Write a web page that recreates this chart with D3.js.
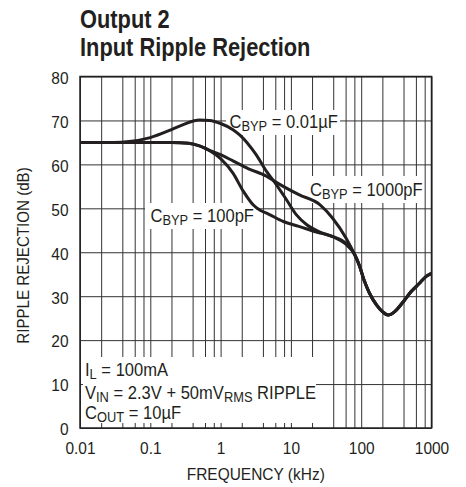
<!DOCTYPE html>
<html>
<head>
<meta charset="utf-8">
<script src="https://cdn.jsdelivr.net/npm/d3@7"></script>
<style>
  html, body { margin: 0; padding: 0; background: #fff; }
  svg { display: block; }
  text { font-family: "Liberation Sans", Arial, sans-serif; fill: #231f20; }
</style>
</head>
<body>
<svg id="chart" width="466" height="487"></svg>
<script>
// Frequency axis (kHz, log) and ripple rejection axis (dB)
const xTickValues = [0.01, 0.1, 1, 10, 100, 1000];
const xTickLabels = ["0.01", "0.1", "1", "10", "100", "1000"];
const yTickValues = [0, 10, 20, 30, 40, 50, 60, 70, 80];
const gridMultipliers = [1, 2, 4, 6, 8];

// C_BYP = 0.01µF
const freqA = [0.01, 0.03, 0.05, 0.1, 0.2, 0.3, 0.5, 0.7, 1, 1.5, 1.9, 3.2, 4.5, 6.2, 8.7, 12, 17, 25, 40, 60];
const dbA   = [65, 65, 65.2, 66.1, 67.9, 69.1, 70.1, 70, 69.3, 67.9, 66.6, 62.2, 58.4, 55.4, 51.9, 48.5, 46.2, 44.7, 43.5, 41.9];

// C_BYP = 100pF
const freqB = [0.01, 0.1, 0.2, 0.35, 0.5, 0.7, 1, 1.5, 2.1, 2.9, 3.6, 4.8, 7.8, 13, 23, 39, 61];
const dbB   = [65, 65, 65, 64.8, 64.2, 63.1, 61.3, 58, 53.9, 50.8, 49.6, 48.7, 47, 45.9, 44.6, 43.6, 42];

// C_BYP = 1000pF
const freqC = [0.01, 0.1, 0.2, 0.35, 0.5, 0.7, 1, 1.5, 2.5, 4.5, 6.2, 13, 26, 39, 61];
const dbC   = [65, 65, 65, 64.8, 64.2, 63.2, 62.2, 60.8, 59, 57.3, 55.9, 53.1, 50.8, 47.8, 43.2];

// Shared high-frequency response where the three curves coincide
const freqTail = [80, 95, 110, 130, 165, 200, 240, 300, 400, 510, 680, 840, 1000];
const dbTail   = [39.6, 36.8, 33.6, 30.8, 28, 26.5, 25.7, 26.5, 28.8, 31, 33, 34.5, 35.2];

const svg = d3.select("#chart");
const plotL = 80, plotR = 431.5, plotT = 76.5, plotB = 428;

const x = d3.scaleLog().domain([0.01, 1000]).range([plotL, plotR]);
const y = d3.scaleLinear().domain([0, 80]).range([plotB, plotT]);

// grid positions: 1,2,4,6,8 in each decade
const gridX = [];
xTickValues.slice(0, -1).forEach(d => gridMultipliers.forEach(m => gridX.push(d * m)));
gridX.push(1000);

const grid = svg.append("g");
grid.append("g")
  .attr("transform", `translate(0,${plotB})`)
  .call(d3.axisBottom(x).tickValues(gridX).tickSize(-(plotB - plotT)).tickFormat(""))
  .call(g => g.select(".domain").remove())
  .call(g => g.selectAll("line").attr("stroke", "#333").attr("stroke-width", 1));
grid.append("g")
  .attr("transform", `translate(${plotL},0)`)
  .call(d3.axisLeft(y).tickValues(yTickValues).tickSize(-(plotR - plotL)).tickFormat(""))
  .call(g => g.select(".domain").remove())
  .call(g => g.selectAll("line").attr("stroke", "#333").attr("stroke-width", 1));

// white panels behind the annotations
const panels = [
  [226, 110, 114, 25],
  [306, 176, 116, 27],
  [145, 203, 111, 26],
  [83, 357, 233, 66]
];
svg.append("g").selectAll("rect").data(panels).join("rect")
  .attr("x", d => d[0]).attr("y", d => d[1])
  .attr("width", d => d[2]).attr("height", d => d[3])
  .attr("fill", "#fff");

// frame
svg.append("rect")
  .attr("x", plotL).attr("y", plotT)
  .attr("width", plotR - plotL).attr("height", plotB - plotT)
  .attr("fill", "none").attr("stroke", "#231f20").attr("stroke-width", 1.5);

// curves
const line = d3.line()
  .x(d => x(d[0])).y(d => y(d[1]))
  .curve(d3.curveMonotoneX);
const series = [[freqA, dbA], [freqB, dbB], [freqC, dbC]].map(([f, v]) =>
  f.map((q, i) => [q, v[i]]).concat(freqTail.map((q, i) => [q, dbTail[i]])));
svg.append("g").selectAll("path").data(series).join("path")
  .attr("d", line)
  .attr("fill", "none")
  .attr("stroke", "#231f20")
  .attr("stroke-width", 3)
  .attr("stroke-linejoin", "round");

// condensed lettering: horizontal squeeze of the sans face
const SQ = 0.91;

// tick labels
const xAxis = svg.append("g")
  .attr("transform", `translate(0,${plotB})`)
  .call(d3.axisBottom(x).tickValues(xTickValues).tickSize(0).tickPadding(14)
    .tickFormat((d, i) => xTickLabels[i]));
xAxis.select(".domain").remove();
xAxis.attr("font-family", null).attr("font-size", 17);
xAxis.selectAll("text").attr("fill", "#231f20").attr("transform", `scale(${SQ},1)`);

const yAxis = svg.append("g")
  .attr("transform", `translate(${plotL},0)`)
  .call(d3.axisLeft(y).tickValues(yTickValues).tickSize(0).tickPadding(11).tickFormat(d3.format("d")));
yAxis.select(".domain").remove();
yAxis.attr("font-family", null).attr("font-size", 17);
yAxis.selectAll("text").attr("fill", "#231f20").attr("dy", "0.4em")
  .attr("x", -11.5 / SQ).attr("transform", `scale(${SQ},1)`);

// text placed at (xp, yp) with a horizontal squeeze
function squeezed(xp, yp, sx, rot) {
  return svg.append("g")
    .attr("transform", `translate(${xp},${yp})${rot ? ` rotate(${rot})` : ""} scale(${sx},1)`)
    .append("text");
}

// titles
squeezed(80, 28, 0.84).attr("font-size", 26).attr("font-weight", "bold").text("Output 2");
squeezed(80, 56, 0.84).attr("font-size", 26).attr("font-weight", "bold").text("Input Ripple Rejection");

squeezed((plotL + plotR) / 2, 480, SQ)
  .attr("text-anchor", "middle").attr("font-size", 17).text("FREQUENCY (kHz)");
squeezed(28.5, 255.5, 0.89, -90)
  .attr("text-anchor", "middle").attr("font-size", 17).text("RIPPLE REJECTION (dB)");

// annotation text with subscripts
function label(xp, yp, parts) {
  const t = squeezed(xp, yp, 0.92).attr("font-size", 18);
  parts.forEach(p => {
    const s = t.append("tspan").text(p[0]);
    if (p[1]) s.attr("font-size", 14).attr("dy", 3);
    else if (p[2]) s.attr("dy", -3);
  });
}
label(229.5, 128, [["C"], ["BYP", true], [" = 0.01µF", false, true]]);
label(310, 196, [["C"], ["BYP", true], [" = 1000pF", false, true]]);
label(150.5, 222, [["C"], ["BYP", true], [" = 100pF", false, true]]);
label(85, 376, [["I"], ["L", true], [" = 100mA", false, true]]);
label(85, 399, [["V"], ["IN", true], [" = 2.3V + 50mV", false, true], ["RMS", true], [" RIPPLE", false, true]]);
label(85, 419, [["C"], ["OUT", true], [" = 10µF", false, true]]);
</script>
</body>
</html>
